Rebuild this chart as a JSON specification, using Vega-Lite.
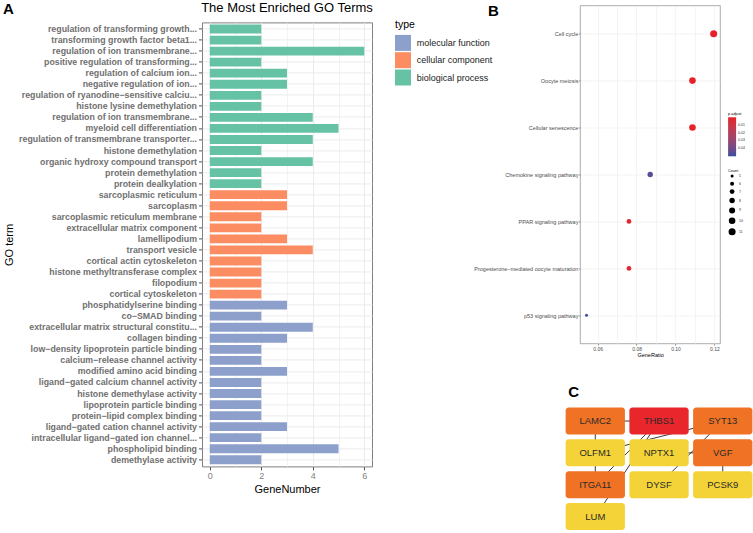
{
  "$schema": "https://vega.github.io/schema/vega-lite/v6.json",
  "padding": {"left": 3, "top": 1.5, "right": 0, "bottom": 0},
  "background": "white",
  "title": {"text": "A", "anchor": "start", "frame": "bounds", "offset": 0, "dy": 27, "fontSize": 15, "fontWeight": "bold", "baseline": "alphabetic", "color": "#000"},
  "datasets": {
    "go": [
      {"term": "regulation of transforming growth...", "GeneNumber": 2, "type": "biological process"},
      {"term": "transforming growth factor beta1...", "GeneNumber": 2, "type": "biological process"},
      {"term": "regulation of ion transmembrane...", "GeneNumber": 6, "type": "biological process"},
      {"term": "positive regulation of transforming...", "GeneNumber": 2, "type": "biological process"},
      {"term": "regulation of calcium ion...", "GeneNumber": 3, "type": "biological process"},
      {"term": "negative regulation of ion...", "GeneNumber": 3, "type": "biological process"},
      {"term": "regulation of ryanodine−sensitive calciu...", "GeneNumber": 2, "type": "biological process"},
      {"term": "histone lysine demethylation", "GeneNumber": 2, "type": "biological process"},
      {"term": "regulation of ion transmembrane... ", "GeneNumber": 4, "type": "biological process"},
      {"term": "myeloid cell differentiation", "GeneNumber": 5, "type": "biological process"},
      {"term": "regulation of transmembrane transporter...", "GeneNumber": 4, "type": "biological process"},
      {"term": "histone demethylation", "GeneNumber": 2, "type": "biological process"},
      {"term": "organic hydroxy compound transport", "GeneNumber": 4, "type": "biological process"},
      {"term": "protein demethylation", "GeneNumber": 2, "type": "biological process"},
      {"term": "protein dealkylation", "GeneNumber": 2, "type": "biological process"},
      {"term": "sarcoplasmic reticulum", "GeneNumber": 3, "type": "cellular component"},
      {"term": "sarcoplasm", "GeneNumber": 3, "type": "cellular component"},
      {"term": "sarcoplasmic reticulum membrane", "GeneNumber": 2, "type": "cellular component"},
      {"term": "extracellular matrix component", "GeneNumber": 2, "type": "cellular component"},
      {"term": "lamellipodium", "GeneNumber": 3, "type": "cellular component"},
      {"term": "transport vesicle", "GeneNumber": 4, "type": "cellular component"},
      {"term": "cortical actin cytoskeleton", "GeneNumber": 2, "type": "cellular component"},
      {"term": "histone methyltransferase complex", "GeneNumber": 2, "type": "cellular component"},
      {"term": "filopodium", "GeneNumber": 2, "type": "cellular component"},
      {"term": "cortical cytoskeleton", "GeneNumber": 2, "type": "cellular component"},
      {"term": "phosphatidylserine binding", "GeneNumber": 3, "type": "molecular function"},
      {"term": "co−SMAD binding", "GeneNumber": 2, "type": "molecular function"},
      {"term": "extracellular matrix structural constitu...", "GeneNumber": 4, "type": "molecular function"},
      {"term": "collagen binding", "GeneNumber": 3, "type": "molecular function"},
      {"term": "low−density lipoprotein particle binding", "GeneNumber": 2, "type": "molecular function"},
      {"term": "calcium−release channel activity", "GeneNumber": 2, "type": "molecular function"},
      {"term": "modified amino acid binding", "GeneNumber": 3, "type": "molecular function"},
      {"term": "ligand−gated calcium channel activity", "GeneNumber": 2, "type": "molecular function"},
      {"term": "histone demethylase activity", "GeneNumber": 2, "type": "molecular function"},
      {"term": "lipoprotein particle binding", "GeneNumber": 2, "type": "molecular function"},
      {"term": "protein−lipid complex binding", "GeneNumber": 2, "type": "molecular function"},
      {"term": "ligand−gated cation channel activity", "GeneNumber": 3, "type": "molecular function"},
      {"term": "intracellular ligand−gated ion channel...", "GeneNumber": 2, "type": "molecular function"},
      {"term": "phospholipid binding", "GeneNumber": 5, "type": "molecular function"},
      {"term": "demethylase activity", "GeneNumber": 2, "type": "molecular function"}
    ],
    "kegg": [
      {"Description": "Cell cycle", "GeneRatio": 0.1196, "Count": 11, "padj": 0.0002},
      {"Description": "Oocyte meiosis", "GeneRatio": 0.1087, "Count": 10, "padj": 0.0004},
      {"Description": "Cellular senescence", "GeneRatio": 0.1087, "Count": 10, "padj": 0.0006},
      {"Description": "Chemokine signaling pathway", "GeneRatio": 0.0870, "Count": 8, "padj": 0.046},
      {"Description": "PPAR signaling pathway", "GeneRatio": 0.0761, "Count": 7, "padj": 0.0021},
      {"Description": "Progesterone−mediated oocyte maturation", "GeneRatio": 0.0761, "Count": 7, "padj": 0.0025},
      {"Description": "p53 signaling pathway", "GeneRatio": 0.0543, "Count": 5, "padj": 0.05}
    ],
    "nodes": [
      {"gene": "LAMC2", "col": 0, "row": 0, "level": "mid"},
      {"gene": "THBS1", "col": 1, "row": 0, "level": "high"},
      {"gene": "SYT13", "col": 2, "row": 0, "level": "mid"},
      {"gene": "OLFM1", "col": 0, "row": 1, "level": "low"},
      {"gene": "NPTX1", "col": 1, "row": 1, "level": "low"},
      {"gene": "VGF", "col": 2, "row": 1, "level": "mid"},
      {"gene": "ITGA11", "col": 0, "row": 2, "level": "mid"},
      {"gene": "DYSF", "col": 1, "row": 2, "level": "low"},
      {"gene": "PCSK9", "col": 2, "row": 2, "level": "low"},
      {"gene": "LUM", "col": 0, "row": 3, "level": "low"}
    ],
    "edges": [
      {"edge": 1, "gene": "LAMC2"}, {"edge": 1, "gene": "THBS1"},
      {"edge": 2, "gene": "LAMC2"}, {"edge": 2, "gene": "OLFM1"},
      {"edge": 3, "gene": "OLFM1"}, {"edge": 3, "gene": "ITGA11"},
      {"edge": 4, "gene": "ITGA11"}, {"edge": 4, "gene": "THBS1"},
      {"edge": 5, "gene": "LUM"}, {"edge": 5, "gene": "THBS1"},
      {"edge": 6, "gene": "SYT13"}, {"edge": 6, "gene": "OLFM1"},
      {"edge": 7, "gene": "SYT13"}, {"edge": 7, "gene": "DYSF"},
      {"edge": 8, "gene": "NPTX1"}, {"edge": 8, "gene": "VGF"},
      {"edge": 9, "gene": "VGF"}, {"edge": 9, "gene": "PCSK9"}
    ]
  },
  "spacing": -21.4,
  "resolve": {"scale": {"color": "independent", "size": "independent"}, "legend": {"color": "independent", "size": "independent"}},
  "hconcat": [
    {
      "vconcat": [
        {
          "width": 170,
          "height": 1,
          "view": {"stroke": null},
          "data": {"values": []},
          "mark": {"type": "point"},
          "encoding": {}
        },
        {
          "width": 170,
          "height": 444,
          "title": {"text": "The Most Enriched GO Terms", "fontSize": 13, "fontWeight": "normal", "color": "#000", "anchor": "middle", "frame": "group", "offset": 7.4, "dy": 12, "baseline": "alphabetic"},
          "view": {"stroke": "#7f7f7f", "strokeWidth": 1},
          "data": {"name": "go"},
          "mark": {"type": "bar"},
          "encoding": {
            "y": {
              "field": "term", "type": "nominal", "sort": null,
              "scale": {"paddingInner": 0.2, "paddingOuter": 0.2},
              "axis": {"title": "GO term", "titleFontSize": 11, "titleFontWeight": "normal", "titleColor": "#000", "titlePadding": 4,
                       "labelFontSize": 8.8, "labelFontWeight": "bold", "labelColor": "#707070", "labelLimit": 300, "labelPadding": 2,
                       "tickSize": 3.5, "tickColor": "#555", "domain": false, "grid": true, "gridColor": "#ebebeb", "bandPosition": 0.5}
            },
            "x": {
              "field": "GeneNumber", "type": "quantitative",
              "scale": {"domain": [-0.3, 6.3], "nice": false, "zero": false},
              "axis": {"title": "GeneNumber", "values": [0, 1, 2, 3, 4, 5, 6],
                       "labelExpr": "datum.value % 2 === 0 ? datum.label : ''",
                       "tickOpacity": {"condition": {"test": "datum.value % 2 !== 0", "value": 0}, "value": 1},
                       "gridWidth": {"condition": {"test": "datum.value % 2 !== 0", "value": 0.6}, "value": 1},
                       "labelFontSize": 9, "labelColor": "#808080", "labelPadding": 2, "tickSize": 3.5, "tickColor": "#555",
                       "titleFontSize": 11, "titleFontWeight": "normal", "titleColor": "#000", "titlePadding": 3,
                       "domain": false, "grid": true, "gridColor": "#ebebeb"}
            },
            "color": {
              "field": "type", "type": "nominal",
              "scale": {"domain": ["molecular function", "cellular component", "biological process"], "range": ["#8DA0CB", "#FC8D62", "#66C2A5"]},
              "legend": {"title": "type", "orient": "none", "legendX": 193, "legendY": -2, "titleFontSize": 10.5, "titleFontWeight": "normal", "titleColor": "#000", "titlePadding": 4,
                         "labelFontSize": 9, "labelColor": "#1a1a1a", "symbolType": "square", "symbolSize": 256, "symbolStrokeWidth": 0, "rowPadding": 1.3, "labelOffset": 5.7}
            }
          }
        }
      ],
      "bounds": "flush",
      "spacing": 15.9,
      "resolve": {"scale": {"color": "independent"}, "legend": {"color": "independent"}}
    },
    {
      "vconcat": [
        {
          "width": 140,
          "height": 338,
          "title": {"text": "B", "anchor": "start", "frame": "group", "dx": -92, "offset": 0, "dy": 25, "fontSize": 15, "fontWeight": "bold", "baseline": "alphabetic", "color": "#000"},
          "view": {"stroke": "#888", "strokeWidth": 0.7},
          "data": {"name": "kegg"},
          "mark": {"type": "circle", "opacity": 1},
          "encoding": {
            "x": {
              "field": "GeneRatio", "type": "quantitative",
              "scale": {"domain": [0.051, 0.1229], "nice": false, "zero": false},
              "axis": {"title": "GeneRatio", "values": [0.06, 0.07, 0.08, 0.09, 0.1, 0.11, 0.12],
                       "labelExpr": "round(datum.value*100) % 2 === 0 ? format(datum.value, '.2f') : ''",
                       "tickOpacity": {"condition": {"test": "round(datum.value*100) % 2 === 1", "value": 0}, "value": 1},
                       "labelFontSize": 5, "labelColor": "#4d4d4d", "labelPadding": 1, "tickSize": 1.5, "tickColor": "#4d4d4d", "tickWidth": 0.6,
                       "titleFontSize": 5.5, "titleFontWeight": "normal", "titleColor": "#000", "titlePadding": 1.5,
                       "domain": false, "grid": true, "gridColor": "#ebebeb", "gridWidth": 0.6}
            },
            "y": {
              "field": "Description", "type": "nominal", "sort": null,
              "scale": {"type": "point", "padding": 0.6},
              "axis": {"title": null, "labelFontSize": 5.5, "labelColor": "#4d4d4d", "labelPadding": 0.7, "labelLimit": 300,
                       "tickSize": 1.5, "tickColor": "#4d4d4d", "tickWidth": 0.6, "domain": false, "grid": true, "gridColor": "#ebebeb", "gridWidth": 0.6}
            },
            "color": {
              "field": "padj", "type": "quantitative",
              "scale": {"domain": [0.0505, 0], "range": ["#3A4DA1", "#E7202A"], "interpolate": "lab"},
              "legend": {"title": "p.adjust", "orient": "none", "legendX": 148, "legendY": 106, "direction": "vertical",
                         "gradientLength": 39, "gradientThickness": 8, "values": [0.01, 0.02, 0.03, 0.04], "format": ".2f",
                         "labelOverlap": false, "titleFontSize": 3.8, "titleFontWeight": "normal", "titleColor": "#000", "titlePadding": 2,
                         "labelFontSize": 3.5, "labelColor": "#333", "labelOffset": 2}
            },
            "size": {
              "field": "Count", "type": "quantitative",
              "scale": {"domain": [5, 11], "range": [9, 50]},
              "legend": {"title": "Count", "orient": "none", "legendX": 148, "legendY": 163, "values": [5, 6, 7, 8, 9, 10, 11],
                         "symbolFillColor": "#000", "symbolStrokeColor": "#000", "symbolStrokeWidth": 0, "symbolType": "circle",
                         "titleFontSize": 3.8, "titleFontWeight": "normal", "titleColor": "#000", "titlePadding": 2,
                         "labelFontSize": 3.5, "labelColor": "#333", "labelOffset": 3, "rowPadding": 3.4}
            }
          }
        },
        {
          "width": 204.6,
          "height": 122.6,
          "title": {"text": "C", "anchor": "start", "frame": "group", "dx": 20.5, "offset": 11, "dy": 15.8, "fontSize": 15, "fontWeight": "bold", "baseline": "alphabetic", "color": "#000"},
          "view": {"stroke": null},
          "encoding": {
            "x": {"field": "col", "type": "ordinal", "axis": null, "scale": {"type": "band", "paddingInner": 0.07, "paddingOuter": 0.14, "align": 1}},
            "y": {"field": "row", "type": "ordinal", "axis": null, "scale": {"type": "band", "paddingInner": 0.153, "paddingOuter": 0}}
          },
          "layer": [
            {
              "data": {"name": "edges"},
              "transform": [{"lookup": "gene", "from": {"data": {"name": "nodes"}, "key": "gene", "fields": ["col", "row"]}}],
              "mark": {"type": "line", "color": "#3a3a3a", "strokeWidth": 1},
              "encoding": {"detail": {"field": "edge", "type": "nominal"}}
            },
            {
              "data": {"name": "nodes"},
              "mark": {"type": "rect", "cornerRadius": 3},
              "encoding": {
                "color": {"field": "level", "type": "nominal", "legend": null,
                          "scale": {"domain": ["high", "mid", "low"], "range": ["#E8262B", "#F07224", "#F3D338"]}}
              }
            },
            {
              "data": {"name": "nodes"},
              "mark": {"type": "text", "fontSize": 9.5, "color": "#2a2a2a"},
              "encoding": {"text": {"field": "gene", "type": "nominal"}}
            }
          ]
        }
      ],
      "bounds": "flush",
      "center": true,
      "spacing": 64,
      "resolve": {"scale": {"color": "independent", "size": "independent"}, "legend": {"color": "independent", "size": "independent"}}
    }
  ],
  "config": {
    "font": "Liberation Sans",
    "view": {"stroke": null}
  }
}
